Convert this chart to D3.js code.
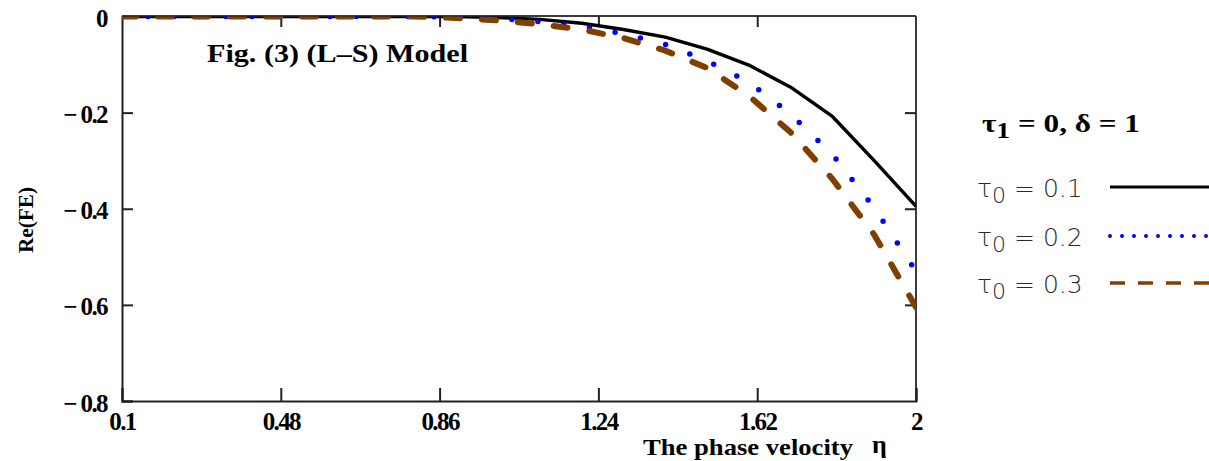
<!DOCTYPE html>
<html>
<head>
<meta charset="utf-8">
<script src="https://cdn.jsdelivr.net/npm/d3@7"></script>
<style>
  html, body { margin: 0; padding: 0; background: #fff; }
  svg { display: block; }
</style>
</head>
<body>
<script>
// ---- data ----
const eta = [0.1, 0.2, 0.3, 0.4, 0.5, 0.6, 0.7, 0.8, 0.9, 1.0, 1.1, 1.2, 1.3, 1.4, 1.5, 1.6, 1.7, 1.8, 1.9, 2.0];
const tau01 = [0, 0, 0, 0, 0, 0, 0, 0, 0, -0.002, -0.006, -0.014, -0.027, -0.043, -0.068, -0.101, -0.147, -0.208, -0.300, -0.395];
const tau02 = [0, 0, 0, 0, 0, 0, 0, 0, -0.001, -0.004, -0.011, -0.021, -0.036, -0.058, -0.092, -0.137, -0.203, -0.287, -0.398, -0.53];
const tau03 = [0, 0, 0, 0, 0, 0, 0, 0, -0.003, -0.008, -0.016, -0.027, -0.045, -0.071, -0.107, -0.165, -0.241, -0.338, -0.454, -0.605];
const xTicks = [0.1, 0.48, 0.86, 1.24, 1.62, 2];
const yTicks = [0, -0.2, -0.4, -0.6, -0.8];
const legendLabels = ["0.1", "0.2", "0.3"];

const W = 1209, H = 461;
const svg = d3.select("body").append("svg").attr("width", W).attr("height", H);

const x = d3.scaleLinear().domain([0.1, 2]).range([122, 916]);
const y = d3.scaleLinear().domain([-0.8, 0]).range([401, 16.5]);

const serif = "'Liberation Serif', 'Times New Roman', serif";

// clip
svg.append("defs").append("clipPath").attr("id", "plotclip")
  .append("rect").attr("x", 122).attr("y", 16.5).attr("width", 794).attr("height", 384.5);

// frame: top and right
svg.append("line").attr("x1", 122).attr("x2", 916).attr("y1", 16).attr("y2", 16)
  .attr("stroke", "#3a3a3a").attr("stroke-width", 2);
svg.append("line").attr("x1", 916).attr("x2", 916).attr("y1", 16).attr("y2", 401)
  .attr("stroke", "#3a3a3a").attr("stroke-width", 2);

// axes with inward ticks
const xAxisB = d3.axisBottom(x).tickValues(xTicks).tickSize(-13).tickFormat(d3.format("")).tickPadding(11);
const gxb = svg.append("g").attr("transform", "translate(0,401)").call(xAxisB);
gxb.select(".domain").attr("stroke", "#222").attr("stroke-width", 2);
gxb.selectAll(".tick line").attr("stroke", "#222").attr("stroke-width", 2);
gxb.selectAll(".tick text").attr("font-family", serif).attr("font-weight", "bold")
  .attr("font-size", 25).attr("fill", "#000").attr("letter-spacing", -1.6).attr("dy", "0.7em");

const xAxisT = d3.axisTop(x).tickValues(xTicks.slice(1, -1)).tickSize(-11).tickFormat("");
const gxt = svg.append("g").attr("transform", "translate(0,16)").call(xAxisT);
gxt.select(".domain").remove();
gxt.selectAll(".tick line").attr("stroke", "#222").attr("stroke-width", 2);

const fmtY = d => d === 0 ? "0" : "\u2212 " + d3.format(".1f")(Math.abs(d));
const yAxisL = d3.axisLeft(y).tickValues(yTicks).tickSize(-11).tickFormat(fmtY).tickPadding(15);
const gyl = svg.append("g").attr("transform", "translate(122,0)").call(yAxisL);
gyl.select(".domain").attr("stroke", "#222").attr("stroke-width", 2);
gyl.selectAll(".tick line").attr("stroke", "#222").attr("stroke-width", 2);
gyl.selectAll(".tick text").attr("font-family", serif).attr("font-weight", "bold")
  .attr("font-size", 25).attr("fill", "#000").attr("letter-spacing", -1.6).attr("dy", "0.4em");

const yAxisR = d3.axisRight(y).tickValues(yTicks.slice(1, -1)).tickSize(-11).tickFormat("");
const gyr = svg.append("g").attr("transform", "translate(916,0)").call(yAxisR);
gyr.select(".domain").remove();
gyr.selectAll(".tick line").attr("stroke", "#222").attr("stroke-width", 2);

// curves
const series = [
  { vals: tau01, color: "#000000", width: 3.4, dash: null, cap: "butt" },
  { vals: tau02, color: "#0000ff", width: 5.5, dash: "0 26", cap: "round" },
  { vals: tau03, color: "#7f3f00", width: 6, dash: "14 22", cap: "round" }
];
const line = d3.line().x((d, i) => x(eta[i])).y(d => y(d));
const gc = svg.append("g").attr("clip-path", "url(#plotclip)");
series.forEach(s => {
  gc.append("path").datum(s.vals).attr("d", line)
    .attr("fill", "none").attr("stroke", s.color).attr("stroke-width", s.width)
    .attr("stroke-linecap", s.cap).attr("stroke-linejoin", "round")
    .attr("stroke-dasharray", s.dash);
});

// title inside plot
svg.append("text").attr("x", 207).attr("y", 62)
  .attr("font-family", serif).attr("font-weight", "bold").attr("font-size", 25)
  .attr("textLength", 261).attr("lengthAdjust", "spacingAndGlyphs")
  .text("Fig. (3)  (L\u2013S) Model");

// x axis title
svg.append("text").attr("x", 643).attr("y", 455)
  .attr("font-family", serif).attr("font-weight", "bold").attr("font-size", 24)
  .attr("textLength", 210).attr("lengthAdjust", "spacingAndGlyphs")
  .text("The phase velocity");
svg.append("text").attr("x", 872).attr("y", 453)
  .attr("font-family", serif).attr("font-weight", "bold").attr("font-size", 26)
  .text("\u03b7");

// y axis title
svg.append("text").attr("transform", "translate(33,220) rotate(-90)")
  .attr("text-anchor", "middle")
  .attr("font-family", serif).attr("font-weight", "bold").attr("font-size", 21)
  .attr("textLength", 66).attr("lengthAdjust", "spacingAndGlyphs")
  .text("Re(FE)");

// legend header
const hdr = svg.append("text").attr("x", 982).attr("y", 132)
  .attr("font-family", serif).attr("font-weight", "bold").attr("font-size", 26)
  .attr("textLength", 158).attr("lengthAdjust", "spacingAndGlyphs");
hdr.append("tspan").text("\u03c4");
hdr.append("tspan").attr("dy", 6).attr("font-size", 23).text("1");
hdr.append("tspan").attr("dy", -6).text(" = 0,  \u03b4 = 1");

// legend entries
const legY = [187, 236, 283];
const sans = "'DejaVu Sans', Verdana, sans-serif";
series.forEach((s, i) => {
  const t = svg.append("text").attr("x", 977).attr("y", legY[i] + 10)
    .attr("font-family", sans).attr("font-weight", 200).attr("font-size", 25).attr("fill", "#2a2a2a");
  t.append("tspan").text("\u03c4");
  t.append("tspan").attr("dy", 6).attr("font-size", 22).text("0");
  t.append("tspan").attr("dy", -6).text(" = " + legendLabels[i]);
  svg.append("line").attr("x1", 1110).attr("x2", 1215).attr("y1", legY[i]).attr("y2", legY[i])
    .attr("stroke", s.color)
    .attr("stroke-width", i === 0 ? 3 : (i === 1 ? 4 : 3.5))
    .attr("stroke-linecap", i === 1 ? "round" : "butt")
    .attr("stroke-dasharray", i === 0 ? null : (i === 1 ? "0 12" : "15 13"));
});
</script>
</body>
</html>
